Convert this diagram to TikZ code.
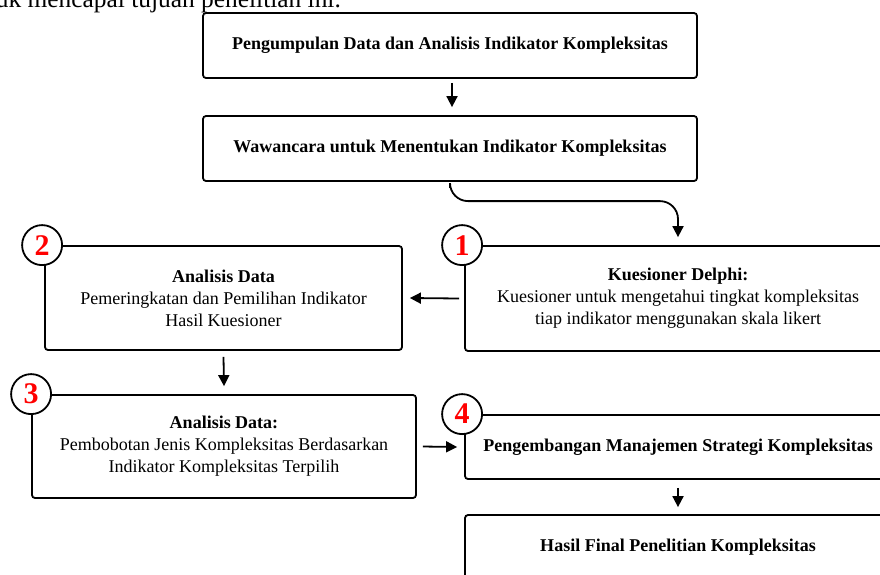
\documentclass[tikz,border=0pt]{standalone}
\usepackage{fontspec}
\setmainfont{Liberation Serif}
\usetikzlibrary{arrows.meta}
\begin{document}
\begin{tikzpicture}[x=1pt,y=-1pt,
  box/.style={draw, line width=1.8pt, rounded corners=3pt, fill=white, align=center,
    inner sep=0pt, font=\fontsize{18}{22}\selectfont},
  numc/.style={draw, circle, line width=1.8pt, fill=white, minimum size=40pt, inner sep=0pt,
    text=red, font=\fontsize{30}{30}\selectfont\bfseries},
  arr/.style={line width=1.8pt, -{Triangle[length=11pt,width=11pt]}}]
\useasboundingbox (0,0) rectangle (880,574);
\clip (0,0) rectangle (880,574);
\node[anchor=base east, inner sep=0pt, font=\fontsize{25.4}{28}\selectfont] (top) at (341,7) {untuk mencapai tujuan penelitian ini.};
\node[box, minimum width=494pt, minimum height=65pt] (A) at (450,45.5) {\bfseries Pengumpulan Data dan Analisis Indikator Kompleksitas};
\node[box, minimum width=494pt, minimum height=65pt] (B) at (450,148.5) {\bfseries Wawancara untuk Menentukan Indikator Kompleksitas};
\node[box, minimum width=426pt, minimum height=105pt] (K) at (678,298.5) {\textbf{Kuesioner Delphi:}\\Kuesioner untuk mengetahui tingkat kompleksitas\\tiap indikator menggunakan skala likert};
\node[box, minimum width=357pt, minimum height=104pt] (M2) at (223.5,298) {\textbf{Analisis Data}\\Pemeringkatan dan Pemilihan Indikator\\Hasil Kuesioner};
\node[box, minimum width=384pt, minimum height=103pt] (M3) at (224,446.5) {\textbf{Analisis Data:}\\Pembobotan Jenis Kompleksitas Berdasarkan\\Indikator Kompleksitas Terpilih};
\node[box, minimum width=426pt, minimum height=64pt] (M4) at (678,447) {\bfseries Pengembangan Manajemen Strategi Kompleksitas};
\node[box, minimum width=426pt, minimum height=64pt] (M5) at (678,547) {\bfseries Hasil Final Penelitian Kompleksitas};
\node[numc] (n1) at ([xshift=-2pt]K.north west) {1};
\node[numc] (n2) at ([xshift=-2pt]M2.north west) {2};
\node[numc] (n3) at (M3.north west) {3};
\node[numc] (n4) at ([xshift=-2pt]M4.north west) {4};
\draw[arr] ([xshift=2pt,yshift=-4pt]A.south) -- ([xshift=2pt,yshift=8pt]B.north);
\draw[arr, rounded corners=18pt] ([yshift=-6pt]B.south) |- ([yshift=44pt]K.north) -- ([yshift=8pt]K.north);
\draw[arr] ([xshift=-5pt]K.west) -- ([xshift=7pt]M2.east);
\draw[arr] ([yshift=-6pt]M2.south) -- ([yshift=8pt]M3.north);
\draw[arr] ([xshift=6pt]M3.east) -- ([xshift=-7pt]M4.west);
\draw[arr] ([yshift=-8pt]M4.south) -- ([yshift=7pt]M5.north);
\end{tikzpicture}
\end{document}
